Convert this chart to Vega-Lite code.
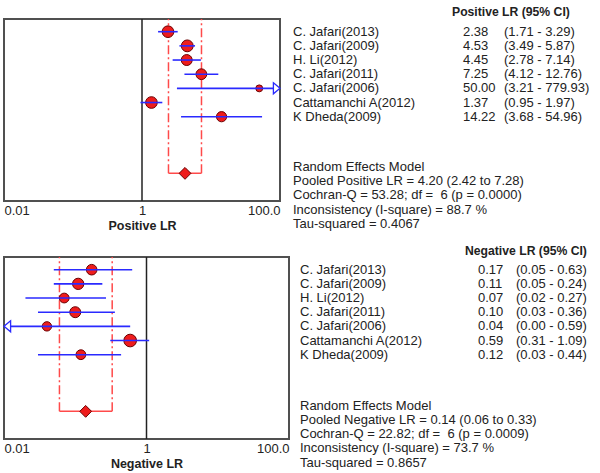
{
  "$schema": "https://vega.github.io/schema/vega-lite/v6.json",
  "padding": {"left": 0, "top": 6, "right": 0, "bottom": 0},
  "spacing": 11,
  "datasets": {
    "pos": [
      {"study": "C. Jafari(2013)", "row": 1, "lr": 2.38, "lower": 1.71, "upper": 3.29, "w": 17, "ci": "(1.71 - 3.29)"},
      {"study": "C. Jafari(2009)", "row": 2, "lr": 4.53, "lower": 3.49, "upper": 5.87, "w": 17.5, "ci": "(3.49 - 5.87)"},
      {"study": "H. Li(2012)", "row": 3, "lr": 4.45, "lower": 2.78, "upper": 7.14, "w": 15, "ci": "(2.78 - 7.14)"},
      {"study": "C. Jafari(2011)", "row": 4, "lr": 7.25, "lower": 4.12, "upper": 12.76, "w": 14.5, "ci": "(4.12 - 12.76)"},
      {"study": "C. Jafari(2006)", "row": 5, "lr": 50.0, "lower": 3.21, "upper": 779.93, "w": 6, "ci": "\u00a0\u00a0(3.21 - 779.93)"},
      {"study": "Cattamanchi A(2012)", "row": 6, "lr": 1.37, "lower": 0.95, "upper": 1.97, "w": 17, "ci": "(0.95 - 1.97)"},
      {"study": "K Dheda(2009)", "row": 7, "lr": 14.22, "lower": 3.68, "upper": 54.96, "w": 13, "ci": "\u00a0\u00a0(3.68 - 54.96)"}
    ],
    "posPooled": [
      {"row": 11, "lr": 4.2, "lower": 2.42, "upper": 7.28, "summary": ["Random Effects Model", "Pooled Positive LR = 4.20 (2.42 to 7.28)", "Cochran-Q = 53.28; df = \u00a06 (p = 0.0000)", "Inconsistency (I-square) = 88.7 %", "Tau-squared = 0.4067"]}
    ],
    "neg": [
      {"study": "C. Jafari(2013)", "row": 1, "lr": 0.17, "lower": 0.05, "upper": 0.63, "w": 14, "ci": "(0.05 - 0.63)"},
      {"study": "C. Jafari(2009)", "row": 2, "lr": 0.11, "lower": 0.05, "upper": 0.24, "w": 16, "ci": "(0.05 - 0.24)"},
      {"study": "H. Li(2012)", "row": 3, "lr": 0.07, "lower": 0.02, "upper": 0.27, "w": 12, "ci": "(0.02 - 0.27)"},
      {"study": "C. Jafari(2011)", "row": 4, "lr": 0.1, "lower": 0.03, "upper": 0.36, "w": 15, "ci": "(0.03 - 0.36)"},
      {"study": "C. Jafari(2006)", "row": 5, "lr": 0.04, "lower": 0.003, "upper": 0.59, "w": 11, "ci": "(0.00 - 0.59)"},
      {"study": "Cattamanchi A(2012)", "row": 6, "lr": 0.59, "lower": 0.31, "upper": 1.09, "w": 20, "ci": "(0.31 - 1.09)"},
      {"study": "K Dheda(2009)", "row": 7, "lr": 0.12, "lower": 0.03, "upper": 0.44, "w": 12, "ci": "(0.03 - 0.44)"}
    ],
    "negPooled": [
      {"row": 11, "lr": 0.14, "lower": 0.06, "upper": 0.33, "summary": ["Random Effects Model", "Pooled Negative LR = 0.14 (0.06 to 0.33)", "Cochran-Q = 22.82; df = \u00a06 (p = 0.0009)", "Inconsistency (I-square) = 73.7 %", "Tau-squared = 0.8657"]}
    ]
  },
  "vconcat": [
    {
      "spacing": 9,
      "hconcat": [
        {
          "width": 276,
          "height": 182,
          "layer": [
            {"data": {"name": "posPooled"}, "mark": {"type": "rule", "color": "#ff4a4a", "strokeWidth": 1.5, "strokeDash": [9, 3, 2, 3]},
             "encoding": {
               "x": {"field": "lower", "type": "quantitative", "scale": {"type": "log", "domain": [0.01, 100], "nice": false, "clamp": true},
                     "axis": {"values": [0.01, 1, 100], "labelExpr": "datum.value >= 50 ? '100.0' : datum.value >= 0.5 ? '1' : '0.01'", "labelFlush": true, "ticks": false, "tickSize": 0, "domain": false, "grid": false, "labelFontSize": 13, "labelColor": "#222", "labelPadding": 3, "title": "Positive LR", "titleFontSize": 12.5, "titleFontWeight": "bold", "titleColor": "#222", "titlePadding": 2}},
               "y": {"field": "row", "type": "quantitative", "scale": {"domain": [0.104, 12.95], "nice": false, "zero": false, "reverse": true}, "axis": null},
               "y2": {"datum": 0.104}}},
            {"data": {"name": "posPooled"}, "mark": {"type": "rule", "color": "#ff4a4a", "strokeWidth": 1.5, "strokeDash": [9, 3, 2, 3]},
             "encoding": {"x": {"field": "upper", "type": "quantitative"}, "y": {"field": "row", "type": "quantitative"}, "y2": {"datum": 0.104}}},
            {"data": {"name": "posPooled"}, "mark": {"type": "rule", "color": "#ff4a4a", "strokeWidth": 1.5},
             "encoding": {"x": {"field": "lower", "type": "quantitative"}, "x2": {"field": "upper"}, "y": {"field": "row", "type": "quantitative"}}},
            {"data": {"values": [{}]}, "mark": {"type": "rule", "color": "#222", "strokeWidth": 1.5},
             "encoding": {"x": {"datum": 1, "type": "quantitative"}}},
            {"data": {"name": "pos"}, "mark": {"type": "point", "shape": "circle", "filled": true, "fill": "#ee1c1c", "stroke": "#6b0000", "strokeWidth": 1, "opacity": 1},
             "encoding": {"x": {"field": "lr", "type": "quantitative"}, "y": {"field": "row", "type": "quantitative"},
               "size": {"field": "w", "type": "quantitative", "scale": {"domain": [0, 20], "range": [0, 160]}, "legend": null}}},
            {"data": {"name": "pos"}, "mark": {"type": "rule", "color": "#2a2aff", "strokeWidth": 1.6},
             "encoding": {"x": {"field": "lower", "type": "quantitative"}, "x2": {"field": "upper"}, "y": {"field": "row", "type": "quantitative"}}},
            {"data": {"name": "pos"}, "transform": [{"filter": "datum.upper > 100"}],
             "mark": {"type": "point", "shape": "M -1.2 -1 L 0 0 L -1.2 1 Z", "size": 121, "filled": true, "fill": "white", "stroke": "#2a2aff", "strokeWidth": 1.3, "opacity": 1},
             "encoding": {"x": {"field": "upper", "type": "quantitative"}, "y": {"field": "row", "type": "quantitative"}}},
            {"data": {"name": "posPooled"}, "mark": {"type": "point", "shape": "diamond", "size": 140, "filled": true, "fill": "#ee1c1c", "stroke": "#6b0000", "strokeWidth": 1, "opacity": 1},
             "encoding": {"x": {"field": "lr", "type": "quantitative"}, "y": {"field": "row", "type": "quantitative"}}}
          ]
        },
        {
          "width": 290,
          "height": 182,
          "view": {"stroke": null},
          "layer": [
            {"data": {"name": "pos"}, "mark": {"type": "text", "align": "left", "baseline": "middle", "fontSize": 13, "color": "#222"},
             "encoding": {"x": {"value": 0}, "y": {"field": "row", "type": "quantitative", "scale": {"domain": [0.104, 12.95], "nice": false, "zero": false, "reverse": true}, "axis": null}, "text": {"field": "study"}}},
            {"data": {"name": "pos"}, "mark": {"type": "text", "align": "left", "baseline": "middle", "fontSize": 13, "color": "#222"},
             "encoding": {"x": {"value": 170}, "y": {"field": "row", "type": "quantitative"}, "text": {"field": "lr", "type": "quantitative", "format": ".2f"}}},
            {"data": {"name": "pos"}, "mark": {"type": "text", "align": "left", "baseline": "middle", "fontSize": 13, "color": "#222"},
             "encoding": {"x": {"value": 211}, "y": {"field": "row", "type": "quantitative"}, "text": {"field": "ci"}}},
            {"data": {"values": [{"h": "Positive LR (95% CI)"}]}, "mark": {"type": "text", "align": "left", "baseline": "middle", "fontSize": 12.2, "fontWeight": "bold", "color": "#222"},
             "encoding": {"x": {"value": 159}, "y": {"datum": -0.39, "type": "quantitative"}, "text": {"field": "h"}}},
            {"data": {"name": "posPooled"}, "mark": {"type": "text", "align": "left", "baseline": "middle", "fontSize": 13, "lineHeight": 14.25, "color": "#222"},
             "encoding": {"x": {"value": 0}, "y": {"datum": 10.55, "type": "quantitative"}, "text": {"field": "summary"}}}
          ]
        }
      ]
    },
    {
      "spacing": 10,
      "hconcat": [
        {
          "width": 285,
          "height": 182,
          "layer": [
            {"data": {"name": "negPooled"}, "mark": {"type": "rule", "color": "#ff4a4a", "strokeWidth": 1.5, "strokeDash": [9, 3, 2, 3]},
             "encoding": {
               "x": {"field": "lower", "type": "quantitative", "scale": {"type": "log", "domain": [0.01, 100], "nice": false, "clamp": true},
                     "axis": {"values": [0.01, 1, 100], "labelExpr": "datum.value >= 50 ? '100.0' : datum.value >= 0.5 ? '1' : '0.01'", "labelFlush": true, "ticks": false, "tickSize": 0, "domain": false, "grid": false, "labelFontSize": 13, "labelColor": "#222", "labelPadding": 3, "title": "Negative LR", "titleFontSize": 12.5, "titleFontWeight": "bold", "titleColor": "#222", "titlePadding": 2}},
               "y": {"field": "row", "type": "quantitative", "scale": {"domain": [0.104, 12.95], "nice": false, "zero": false, "reverse": true}, "axis": null},
               "y2": {"datum": 0.104}}},
            {"data": {"name": "negPooled"}, "mark": {"type": "rule", "color": "#ff4a4a", "strokeWidth": 1.5, "strokeDash": [9, 3, 2, 3]},
             "encoding": {"x": {"field": "upper", "type": "quantitative"}, "y": {"field": "row", "type": "quantitative"}, "y2": {"datum": 0.104}}},
            {"data": {"name": "negPooled"}, "mark": {"type": "rule", "color": "#ff4a4a", "strokeWidth": 1.5},
             "encoding": {"x": {"field": "lower", "type": "quantitative"}, "x2": {"field": "upper"}, "y": {"field": "row", "type": "quantitative"}}},
            {"data": {"values": [{}]}, "mark": {"type": "rule", "color": "#222", "strokeWidth": 1.5},
             "encoding": {"x": {"datum": 1, "type": "quantitative"}}},
            {"data": {"name": "neg"}, "mark": {"type": "point", "shape": "circle", "filled": true, "fill": "#ee1c1c", "stroke": "#6b0000", "strokeWidth": 1, "opacity": 1},
             "encoding": {"x": {"field": "lr", "type": "quantitative"}, "y": {"field": "row", "type": "quantitative"},
               "size": {"field": "w", "type": "quantitative", "scale": {"domain": [0, 20], "range": [0, 160]}, "legend": null}}},
            {"data": {"name": "neg"}, "mark": {"type": "rule", "color": "#2a2aff", "strokeWidth": 1.6},
             "encoding": {"x": {"field": "lower", "type": "quantitative"}, "x2": {"field": "upper"}, "y": {"field": "row", "type": "quantitative"}}},
            {"data": {"name": "neg"}, "transform": [{"filter": "datum.lower < 0.01"}],
             "mark": {"type": "point", "shape": "M 1.2 -1 L 0 0 L 1.2 1 Z", "size": 121, "filled": true, "fill": "white", "stroke": "#2a2aff", "strokeWidth": 1.3, "opacity": 1},
             "encoding": {"x": {"field": "lower", "type": "quantitative"}, "y": {"field": "row", "type": "quantitative"}}},
            {"data": {"name": "negPooled"}, "mark": {"type": "point", "shape": "diamond", "size": 140, "filled": true, "fill": "#ee1c1c", "stroke": "#6b0000", "strokeWidth": 1, "opacity": 1},
             "encoding": {"x": {"field": "lr", "type": "quantitative"}, "y": {"field": "row", "type": "quantitative"}}}
          ]
        },
        {
          "width": 285,
          "height": 182,
          "view": {"stroke": null},
          "layer": [
            {"data": {"name": "neg"}, "mark": {"type": "text", "align": "left", "baseline": "middle", "fontSize": 13, "color": "#222"},
             "encoding": {"x": {"value": 0}, "y": {"field": "row", "type": "quantitative", "scale": {"domain": [0.104, 12.95], "nice": false, "zero": false, "reverse": true}, "axis": null}, "text": {"field": "study"}}},
            {"data": {"name": "neg"}, "mark": {"type": "text", "align": "left", "baseline": "middle", "fontSize": 13, "color": "#222"},
             "encoding": {"x": {"value": 178}, "y": {"field": "row", "type": "quantitative"}, "text": {"field": "lr", "type": "quantitative", "format": ".2f"}}},
            {"data": {"name": "neg"}, "mark": {"type": "text", "align": "left", "baseline": "middle", "fontSize": 13, "color": "#222"},
             "encoding": {"x": {"value": 216}, "y": {"field": "row", "type": "quantitative"}, "text": {"field": "ci"}}},
            {"data": {"values": [{"h": "Negative LR (95% CI)"}]}, "mark": {"type": "text", "align": "left", "baseline": "middle", "fontSize": 12.2, "fontWeight": "bold", "color": "#222"},
             "encoding": {"x": {"value": 165}, "y": {"datum": -0.32, "type": "quantitative"}, "text": {"field": "h"}}},
            {"data": {"name": "negPooled"}, "mark": {"type": "text", "align": "left", "baseline": "middle", "fontSize": 13, "lineHeight": 14.25, "color": "#222"},
             "encoding": {"x": {"value": 0}, "y": {"datum": 10.6, "type": "quantitative"}, "text": {"field": "summary"}}}
          ]
        }
      ]
    }
  ],
  "config": {
    "font": "Liberation Sans",
    "view": {"stroke": "#505050", "strokeWidth": 2},
    "text": {"font": "Liberation Sans"},
    "axis": {"labelFont": "Liberation Sans", "titleFont": "Liberation Sans"}
  }
}
